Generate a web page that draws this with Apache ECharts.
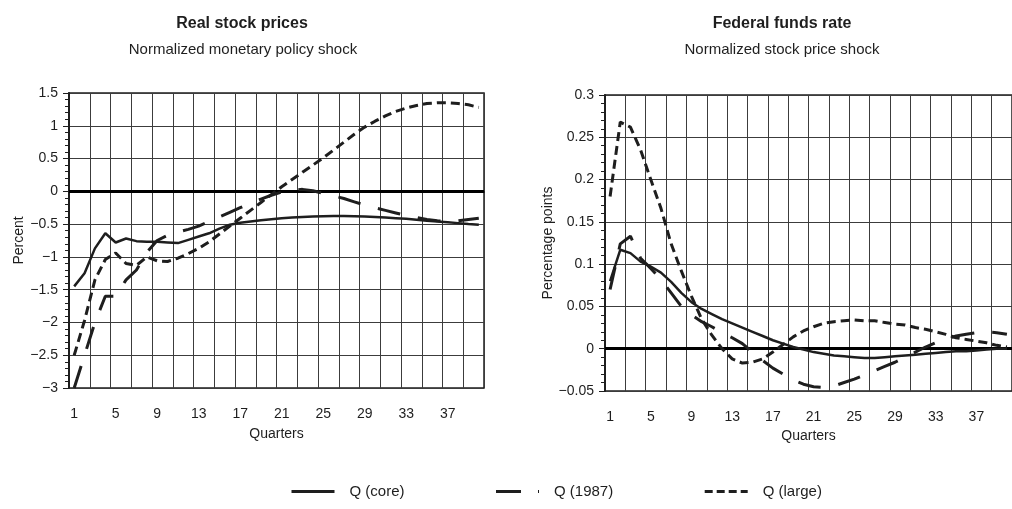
<!DOCTYPE html>
<html>
<head>
<meta charset="utf-8">
<title>Impulse responses</title>
<script src="https://cdn.jsdelivr.net/npm/echarts@6/dist/echarts.min.js"></script>
<style>
  html, body { margin: 0; padding: 0; background: #fff; }
  #chart { width: 1012px; height: 509px; }
</style>
</head>
<body>
<div id="chart"></div>
<script>
// Quarters after the shock
const quarters = ['1','2','3','4','5','6','7','8','9','10','11','12','13','14','15','16','17','18','19','20',
                  '21','22','23','24','25','26','27','28','29','30','31','32','33','34','35','36','37','38','39','40'];

// Real stock prices, response to a normalized monetary policy shock (percent)
const stockCore = [-1.45, -1.25, -0.87, -0.64, -0.78, -0.72, -0.76, -0.77, -0.77, -0.78,
                   -0.79, -0.74, -0.69, -0.64, -0.57, -0.51, -0.48, -0.46, -0.44, -0.425,
                   -0.41, -0.40, -0.39, -0.385, -0.38, -0.375, -0.375, -0.38, -0.385, -0.39,
                   -0.40, -0.41, -0.42, -0.435, -0.45, -0.46, -0.47, -0.485, -0.50, -0.51];
const stock1987 = [-3.0, -2.5, -2.0, -1.6, -1.6, -1.35, -1.2, -0.93, -0.75, -0.67,
                   -0.62, -0.58, -0.53, -0.46, -0.39, -0.32, -0.25, -0.18, -0.12, -0.06,
                   -0.01, 0.02, 0.03, 0.01, -0.03, -0.07, -0.11, -0.16, -0.21, -0.25,
                   -0.29, -0.33, -0.37, -0.40, -0.43, -0.45, -0.46, -0.45, -0.43, -0.41];
const stockLarge = [-2.5, -1.97, -1.35, -1.04, -0.94, -1.1, -1.13, -1.0, -1.06, -1.07,
                    -1.02, -0.95, -0.87, -0.77, -0.65, -0.53, -0.41, -0.29, -0.17, -0.05,
                    0.07, 0.18, 0.29, 0.40, 0.51, 0.63, 0.75, 0.87, 0.98, 1.07,
                    1.15, 1.22, 1.27, 1.31, 1.34, 1.35, 1.35, 1.34, 1.32, 1.28];

// Federal funds rate, response to a normalized stock price shock (percentage points)
const fundsCore = [0.08, 0.117, 0.113, 0.103, 0.097, 0.09, 0.079, 0.066, 0.055, 0.047,
                   0.041, 0.035, 0.03, 0.025, 0.02, 0.015, 0.01, 0.006, 0.002, -0.001,
                   -0.004, -0.006, -0.008, -0.009, -0.010, -0.011, -0.011, -0.010, -0.009, -0.008,
                   -0.007, -0.006, -0.005, -0.004, -0.003, -0.003, -0.002, -0.001, 0.0, 0.0];
const funds1987 = [0.07, 0.124, 0.133, 0.107, 0.095, 0.082, 0.066, 0.05, 0.04, 0.032,
                   0.026, 0.019, 0.013, 0.006, -0.004, -0.014, -0.023, -0.03, -0.037, -0.042,
                   -0.045, -0.046, -0.044, -0.04, -0.036, -0.031, -0.026, -0.021, -0.016, -0.01,
                   -0.004, 0.002, 0.007, 0.011, 0.015, 0.017, 0.019, 0.02, 0.019, 0.017];
const fundsLarge = [0.18, 0.268, 0.262, 0.235, 0.2, 0.166, 0.124, 0.092, 0.062, 0.035,
                    0.016, 0.0, -0.012, -0.017, -0.016, -0.012, -0.004, 0.005, 0.014, 0.021,
                    0.026, 0.03, 0.032, 0.033, 0.034, 0.033, 0.033, 0.031, 0.029, 0.028,
                    0.025, 0.023, 0.02, 0.017, 0.013, 0.011, 0.009, 0.007, 0.004, 0.002];

const seriesNames = ['Q (core)', 'Q (1987)', 'Q (large)'];

const FONT = "'Liberation Sans', Arial, sans-serif";
const INK = '#1e1e1e';
const GRIDLINE = '#3c3c3c';
const dashLong = [23, 18];
const dashShort = [9, 5];

const minus = v => String(v).replace('-', '\u2212');

function xAxisFor(gridIndex, nameGap) {
  return {
    type: 'category', gridIndex, data: quarters, boundaryGap: true,
    name: 'Quarters', nameLocation: 'middle', nameGap,
    nameTextStyle: { fontFamily: FONT, fontSize: 14, color: INK },
    axisLine: { lineStyle: { color: INK, width: 2 } },
    axisTick: { show: false, interval: 1 },
    axisLabel: { interval: 3, margin: 19, fontFamily: FONT, fontSize: 14, color: INK },
    splitLine: { show: true, interval: 1, lineStyle: { color: GRIDLINE, width: 1 } }
  };
}

function yAxisFor(gridIndex, min, max, interval, name, nameGap) {
  return {
    type: 'value', gridIndex, min, max, interval,
    name, nameLocation: 'middle', nameGap,
    nameTextStyle: { fontFamily: FONT, fontSize: 14, color: INK },
    axisLine: { show: true, lineStyle: { color: INK, width: 2 } },
    axisTick: { show: true, inside: false, length: 6, lineStyle: { color: INK, width: 1 } },
    minorTick: { show: true, splitNumber: 5, length: 4, lineStyle: { color: INK, width: 1 } },
    axisLabel: { margin: 11, fontFamily: FONT, fontSize: 14, color: INK, formatter: minus },
    splitLine: { show: true, lineStyle: { color: GRIDLINE, width: 1 } }
  };
}

function lineSeries(name, data, idx, type, width) {
  return {
    name, type: 'line', data, xAxisIndex: idx, yAxisIndex: idx,
    symbol: 'none', smooth: false, z: 5,
    itemStyle: { color: INK },
    lineStyle: { color: INK, width, type, cap: 'butt' }
  };
}

const zeroLine = {
  silent: true, symbol: 'none', label: { show: false },
  lineStyle: { color: '#000', width: 3, type: 'solid' },
  data: [{ yAxis: 0 }]
};

const option = {
  animation: false,
  backgroundColor: '#fff',
  title: [
    { text: 'Real stock prices', left: 237, top: 11, textAlign: 'center',
      textStyle: { fontFamily: FONT, fontSize: 16, fontWeight: 'bold', color: INK } },
    { text: 'Normalized monetary policy shock', left: 238, top: 37, textAlign: 'center',
      textStyle: { fontFamily: FONT, fontSize: 15, fontWeight: 'normal', color: INK } },
    { text: 'Federal funds rate', left: 777, top: 11, textAlign: 'center',
      textStyle: { fontFamily: FONT, fontSize: 16, fontWeight: 'bold', color: INK } },
    { text: 'Normalized stock price shock', left: 777, top: 37, textAlign: 'center',
      textStyle: { fontFamily: FONT, fontSize: 15, fontWeight: 'normal', color: INK } }
  ],
  legend: {
    left: 290, top: 484, padding: 0, itemWidth: 43, itemHeight: 14, itemGap: 90,
    itemStyle: { opacity: 0 },
    textStyle: { fontFamily: FONT, fontSize: 15, color: INK, padding: [0, 0, 0, 10] },
    data: [
      { name: seriesNames[0], lineStyle: { color: INK, width: 3, type: 'solid' } },
      { name: seriesNames[1], lineStyle: { color: INK, width: 3, type: [25, 17, 2, 10] } },
      { name: seriesNames[2], lineStyle: { color: INK, width: 3, type: [8, 4] } }
    ]
  },
  grid: [
    { left: 69, top: 93, width: 415, height: 295, show: true, borderColor: INK, borderWidth: 1.5 },
    { left: 605, top: 95, width: 413, height: 296, show: true, borderColor: INK, borderWidth: 1.5 }
  ],
  xAxis: [xAxisFor(0, 39), xAxisFor(1, 35)],
  yAxis: [
    yAxisFor(0, -3, 1.5, 0.5, 'Percent', 41),
    yAxisFor(1, -0.05, 0.3, 0.05, 'Percentage points', 49)
  ],
  series: [
    Object.assign(lineSeries(seriesNames[0], stockCore, 0, 'solid', 2.5), { markLine: zeroLine }),
    lineSeries(seriesNames[1], stock1987, 0, dashLong, 3),
    lineSeries(seriesNames[2], stockLarge, 0, dashShort, 3),
    Object.assign(lineSeries(seriesNames[0], fundsCore, 1, 'solid', 2.5), { markLine: zeroLine }),
    lineSeries(seriesNames[1], funds1987, 1, dashLong, 3),
    lineSeries(seriesNames[2], fundsLarge, 1, dashShort, 3)
  ]
};

const chart = echarts.init(document.getElementById('chart'), null, { renderer: 'canvas' });
chart.setOption(option);
</script>
</body>
</html>
